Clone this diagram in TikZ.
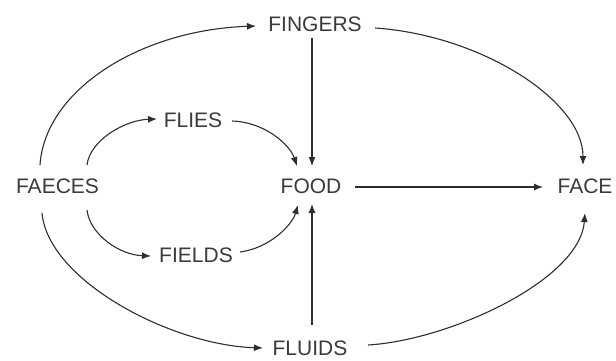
\documentclass[tikz,border=0pt]{standalone}
\usepackage{fontspec}
\setmainfont{Liberation Sans}
\usetikzlibrary{arrows.meta,calc}
\definecolor{ink}{HTML}{2E2E2E}
\definecolor{txt}{HTML}{3A3A3A}
\tikzset{
  lbl/.style={font=\fontsize{21}{21}\selectfont, text=txt, inner sep=0pt, text depth=0pt, anchor=center},
  conn/.style={draw=ink, line width=1.1pt, -{Latex[length=9pt,width=7pt]}}
}
\begin{document}
\begin{tikzpicture}[x=1pt,y=-1pt]
\useasboundingbox (0,0) rectangle (616,360);
\node[lbl] (faeces) at (57.5,186) {FAECES};
\node[lbl] (fingers) at (315,24) {FINGERS};
\node[lbl] (flies) at (193,120) {FLIES};
\node[lbl] (food) at (311,186) {FOOD};
\node[lbl] (face) at (585,186) {FACE};
\node[lbl] (fields) at (196,255) {FIELDS};
\node[lbl] (fluids) at (310,348) {FLUIDS};

\draw[conn] ($(faeces)+(-17.5,-21)$) .. controls (45,90) and (140,30) .. ($(fingers)+(-59,2)$);
\draw[conn] ($(fingers)+(60,4)$) .. controls (480,35) and (583,100) .. ($(face)+(-2,-21)$);
\draw[conn] ($(faeces)+(-15.5,27)$) .. controls (48,280) and (170,345) .. ($(fluids)+(-47,0)$);
\draw[conn] ($(fluids)+(58,-3)$) .. controls (450,340) and (580,280) .. ($(face)+(0,27)$);
\draw[conn] ($(faeces)+(29.5,-21)$) .. controls (90,140) and (125,120) .. ($(flies)+(-36,-1)$);
\draw[conn] ($(flies)+(39,1)$) .. controls (265,122) and (290,145) .. ($(food)+(-14,-20)$);
\draw[conn] ($(faeces)+(29.5,24)$) .. controls (90,235) and (120,255) .. ($(fields)+(-45,1)$);
\draw[conn] ($(fields)+(44,-3)$) .. controls (270,248) and (292,225) .. ($(food)+(-13,19)$);
\draw[conn] ($(fingers)+(-3,14)$) -- ($(food)+(1,-20)$);
\draw[conn] ($(fluids)+(2,-23)$) -- ($(food)+(1,18)$);
\draw[conn] ($(food)+(44,1)$) -- ($(face)+(-42,1)$);
\end{tikzpicture}
\end{document}
